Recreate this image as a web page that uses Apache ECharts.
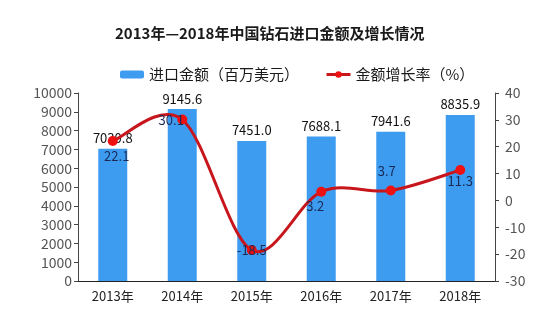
<!DOCTYPE html>
<html><head><meta charset="utf-8">
<script src="https://cdn.jsdelivr.net/npm/echarts@6/dist/echarts.min.js"></script>
<style>html,body{margin:0;padding:0;background:#fff}#c{width:554px;height:322px}</style>
</head><body><div id="c"></div>
<script>
var categories = ['2013年','2014年','2015年','2016年','2017年','2018年'];
var importValues = [7030.8, 9145.6, 7451.0, 7688.1, 7941.6, 8835.9];
var growthRates = [22.1, 30.1, -18.5, 3.2, 3.7, 11.3];
var leftTicks = [0,1000,2000,3000,4000,5000,6000,7000,8000,9000,10000];
var rightTicks = [-30,-20,-10,0,10,20,30,40];

var labelOffsets = [[4,15],[-11,0],[0,0],[-6,14],[-4,-19],[0,11]];
var font = '"Noto Sans CJK SC","Noto Sans",sans-serif';
var lineColor = '#c8161d';
var chart = echarts.init(document.getElementById('c'));

function smoothPath(pts){
  // Bezier through points with Catmull-Rom style control points (tension 1/6)
  var d = 'M' + pts[0][0] + ' ' + pts[0][1];
  for (var i = 0; i < pts.length - 1; i++) {
    var p0 = pts[Math.max(i-1,0)], p1 = pts[i], p2 = pts[i+1], p3 = pts[Math.min(i+2,pts.length-1)];
    var c1x = p1[0] + (p2[0]-p0[0])/6, c1y = p1[1] + (p2[1]-p0[1])/6;
    var c2x = p2[0] - (p3[0]-p1[0])/6, c2y = p2[1] - (p3[1]-p1[1])/6;
    d += ' C' + c1x + ' ' + c1y + ' ' + c2x + ' ' + c2y + ' ' + p2[0] + ' ' + p2[1];
  }
  return d;
}

chart.setOption({
  animation:false,
  textStyle:{fontFamily:font},
  title:{text:'2013年—2018年中国钻石进口金额及增长情况',left:110,top:21,
    textStyle:{fontSize:15,fontWeight:'bold',color:'#1a1a1a',fontFamily:font}},
  legend:{top:62,left:115,itemWidth:24,itemHeight:8,itemGap:26,
    textStyle:{fontSize:15,color:'#1a1a1a',fontFamily:font},
    data:['进口金额（百万美元）',
      {name:'金额增长率（%）',lineStyle:{color:lineColor,width:3,opacity:1},itemStyle:{color:'#ee1111'}}]},
  grid:{left:78,right:59,top:93,bottom:41,containLabel:false},
  xAxis:{type:'category',data:categories,
    axisLine:{lineStyle:{color:'#222',width:1}},axisTick:{show:false},
    axisLabel:{fontSize:13,color:'#222',margin:9,fontFamily:font}},
  yAxis:[
    {type:'value',min:leftTicks[0],max:leftTicks[leftTicks.length-1],interval:1000,
     splitLine:{show:false},axisLine:{show:true,lineStyle:{color:'#444'}},
     axisTick:{show:true,length:4,lineStyle:{color:'#444'}},
     axisLabel:{fontSize:14,color:'#555',margin:6,fontFamily:font,
       formatter:function(v){return String(v);}}},
    {type:'value',min:rightTicks[0],max:rightTicks[rightTicks.length-1],interval:10,
     splitLine:{show:false},axisLine:{show:true,lineStyle:{color:'#444'}},
     axisTick:{show:true,length:4,lineStyle:{color:'#444'}},
     axisLabel:{fontSize:14,color:'#555',margin:10,fontFamily:font}}
  ],
  series:[
    {name:'进口金额（百万美元）',type:'bar',data:importValues,barWidth:29,
     itemStyle:{color:'#3d9cf0'},
     label:{show:true,position:'top',distance:4,fontSize:13,color:'#111',
       formatter:function(p){return p.value.toFixed(1);}}},
    {name:'金额增长率（%）',type:'line',yAxisIndex:1,z:4,
     data:growthRates.map(function(v,i){return {value:v,label:{offset:labelOffsets[i]}};}),
     symbol:'circle',symbolSize:10,
     lineStyle:{color:lineColor,width:3,opacity:0},
     itemStyle:{color:'#ee1111'},
     label:{show:true,position:'inside',fontSize:13,color:'#1a2a55',
       formatter:function(p){return p.value.toFixed(1);}}},
    {name:'金额增长率（%）',type:'custom',yAxisIndex:1,z:3,silent:true,
     data:growthRates.map(function(v,i){return [i,v];}),
     renderItem:function(params, api){
       if (params.dataIndex !== 0) return null;
       var pts = growthRates.map(function(v,i){return api.coord([i,v]);});
       return {type:'path',shape:{pathData:smoothPath(pts)},
         style:{stroke:lineColor,lineWidth:3,fill:null}};
     }}
  ]
});
</script></body></html>
